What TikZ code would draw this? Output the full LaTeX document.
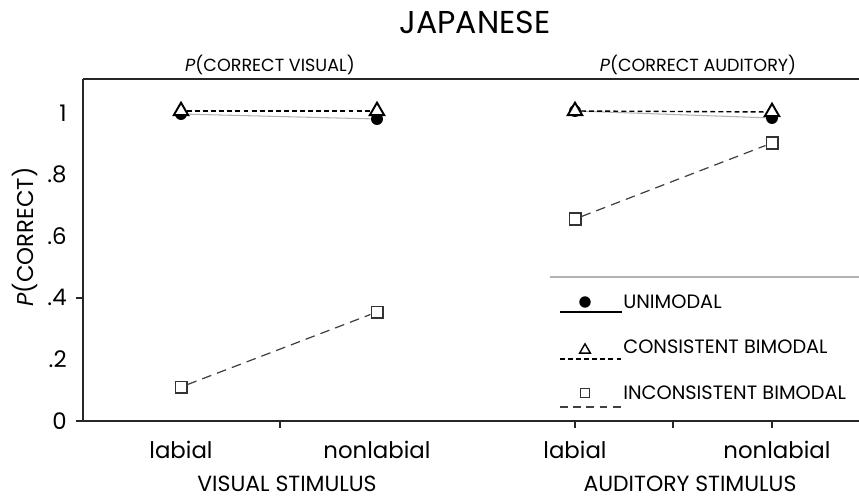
\documentclass[tikz,border=0pt]{standalone}
\usepackage{fontspec}
\setmainfont{Poppins}
\usepackage{tikz}
\usetikzlibrary{shapes.geometric}

\begin{document}
\begin{tikzpicture}[x=0.02cm,y=-0.02cm,
	axis/.style={line width=1pt,black!85},
	unimark/.style={circle,fill=black,inner sep=0pt,minimum size=6.8pt},
	conmark/.style={regular polygon,regular polygon sides=3,draw=black,fill=white,line width=1.1pt,inner sep=0pt,minimum size=9.5pt},
	incmark/.style={rectangle,draw=black!80,fill=white,line width=0.8pt,inner sep=0pt,minimum size=6.6pt},
	uniline/.style={gray!60,line width=0.6pt},
	conline/.style={black,line width=0.8pt,dash pattern=on 2.8pt off 1.8pt},
	incline/.style={black!75,line width=0.7pt,dash pattern=on 5.5pt off 3.5pt},
	ticklab/.style={font=\fontsize{13}{13}\selectfont,anchor=east,inner sep=0pt},
	axlab/.style={font=\fontsize{13}{13}\selectfont,inner sep=0pt},
	legtext/.style={font=\fontsize{11}{11}\selectfont,anchor=west,inner sep=0pt}]
	\useasboundingbox (0,0) rectangle (859,500);
	%\draw[help lines] (0,0) grid[step=50] (859,500);
	% titles
	\node[font=\fontsize{18}{18}\selectfont] (title) at (475,22) {JAPANESE};
	\node[font=\fontsize{10}{10}\selectfont] (vistitle) at (270,65) {\textit{P}(CORRECT VISUAL)};
	\node[font=\fontsize{10}{10}\selectfont] (audtitle) at (698,65) {\textit{P}(CORRECT AUDITORY)};
	% frame and ticks
	\draw[axis] (83,79) -- (859,79);
	\draw[axis] (83,79) -- (83,421);
	\draw[axis] (76,421) -- (859,421);
	\draw[axis] (76,298) -- (83,298);
	\foreach \x in {280,575,673,772}
		\draw[axis] (\x,421) -- (\x,428);
	\foreach \v/\t [count=\i] in {0/0,0.2/.2,0.4/.4,0.6/.6,0.8/.8,1/1}
		\node[ticklab] (ytick\i) at (67,{421-308*\v}) {\t};
	\node[rotate=90,font=\fontsize{13}{13}\selectfont] (ylab) at (25,237) {\textit{P}(CORRECT)};
	% x labels
	\node[axlab] (vislab) at (181,450) {labial};
	\node[axlab] (visnon) at (377,450) {nonlabial};
	\node[axlab] (audlab) at (575,450) {labial};
	\node[axlab] (audnon) at (777,450) {nonlabial};
	\node[axlab,font=\fontsize{12.5}{12.5}\selectfont] (visstim) at (287,484) {VISUAL STIMULUS};
	\node[axlab,font=\fontsize{12.5}{12.5}\selectfont] (audstim) at (690,484) {AUDITORY STIMULUS};
	% unimodal
	\node[unimark] (uni-vl) at (181,114) {};
	\node[unimark] (uni-vn) at (377,119) {};
	\node[unimark] (uni-al) at (575,111) {};
	\node[unimark] (uni-an) at (772,118) {};
	\draw[uniline] (uni-vl) -- (uni-vn);
	\draw[uniline] (uni-al) -- (uni-an);
	% consistent bimodal
	\node[conmark] (con-vl) at (181,111) {};
	\node[conmark] (con-vn) at (377,111) {};
	\node[conmark] (con-al) at (575,111) {};
	\node[conmark] (con-an) at (772,112) {};
	\draw[conline] (con-vl) -- (con-vn);
	\draw[conline] (con-al) -- (con-an);
	% inconsistent bimodal
	\node[incmark] (inc-vl) at (181,387) {};
	\node[incmark] (inc-vn) at (377,312) {};
	\node[incmark] (inc-al) at (575,219) {};
	\node[incmark] (inc-an) at (772,143) {};
	\draw[incline] (inc-vl) -- (inc-vn);
	\draw[incline] (inc-al) -- (inc-an);
	% legend
	\draw[gray!60,line width=0.6pt] (550,277) -- (859,277);
	\node[unimark,minimum size=6.5pt] (leg-uni) at (585,302) {};
	\node[conmark,minimum size=7pt,line width=0.8pt] (leg-con) at (585,350) {};
	\node[incmark,minimum size=5pt] (leg-inc) at (585,393) {};
	\draw[black,line width=0.8pt] (560,312) -- (622,312);
	\draw[conline,line width=0.7pt] (560,359) -- (622,359);
	\draw[incline,dash pattern=on 4.5pt off 3pt] (560,407) -- (622,407);
	\node[legtext] (leg-unitxt) at (623,302) {UNIMODAL};
	\node[legtext] (leg-contxt) at (623,347) {CONSISTENT BIMODAL};
	\node[legtext] (leg-inctxt) at (623,393) {INCONSISTENT BIMODAL};
\end{tikzpicture}
\end{document}
